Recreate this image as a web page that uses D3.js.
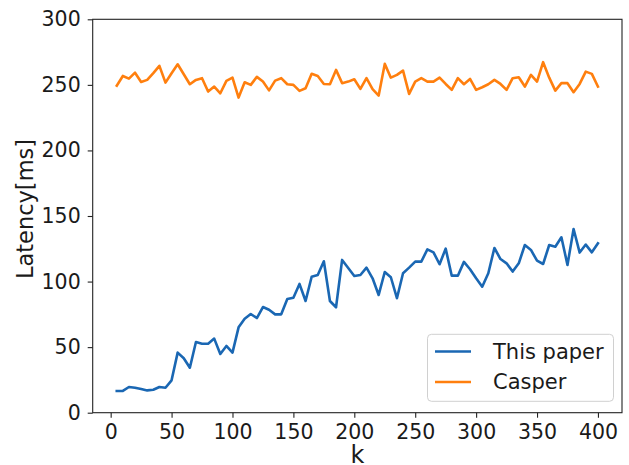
<!DOCTYPE html>
<html>
<head>
<meta charset="utf-8">
<script src="https://cdn.jsdelivr.net/npm/d3@7"></script>
<style>
  html, body { margin: 0; padding: 0; background: #fff; }
  svg { display: block; font-family: "DejaVu Sans", sans-serif; }
</style>
</head>
<body>
<svg id="chart" width="629" height="465"></svg>
<script>
// ---- data ----
const kValues = d3.range(5, 401, 5);
const thisPaper = [
  16.6, 16.6, 19.6, 19, 18, 17, 17.5, 19.6, 19, 24.7,
  45.8, 41.5, 34.3, 53.9, 52.6, 52.6, 56.5, 44.8, 50.9, 45.8,
  65.1, 71.7, 75.3, 72.2, 80.6, 78.5, 75, 75, 86.7, 87.7,
  98.2, 85.2, 103.7, 105, 115.5, 85.2, 80.4, 116.5, 110.4, 104.3,
  105, 110.6, 102.5, 89.8, 107.3, 103.3, 87.3, 106.3, 110.6, 115.2,
  115.2, 124.6, 122.3, 113.2, 125.1, 104.5, 104.5, 115, 109.4, 102.5,
  96.1, 106.3, 125.6, 117.2, 113.9, 107.6, 113.9, 127.9, 124.1, 115.9,
  113.4, 127.9, 126.6, 133.8, 112.7, 140.1, 122.1, 128.2, 122.3, 129.2
];
const casper = [
  249.4, 256.8, 254.8, 259.3, 252.2, 253.8, 258.9, 264.5, 251.7, 258.9,
  265.7, 258.1, 250.5, 253.8, 255.1, 244.9, 248.7, 243.6, 253, 255.5,
  240.3, 252, 250, 256.1, 252.5, 245.8, 253.2, 255.1, 250.5, 250,
  245.4, 247.4, 258.4, 256.8, 250.7, 250.5, 261.4, 251.3, 252.5, 254.3,
  246.9, 255.1, 246.7, 241.8, 266, 255.5, 257.6, 260.9, 243.1, 252.5,
  255.1, 252.5, 252.5, 255.5, 250.7, 246.2, 255.1, 250.5, 254.5, 246.2,
  248.2, 250.5, 253.8, 250.7, 246.2, 255.1, 255.8, 248.7, 257.6, 252.5,
  267.3, 255.5, 245.6, 251.3, 251.3, 244.4, 250.7, 260.1, 258.4, 248.7
];
const seriesNames = ["This paper", "Casper"];
const seriesColors = ["#1a67b3", "#ff7f0e"];
const xTicks = [0, 50, 100, 150, 200, 250, 300, 350, 400];
const yTicks = [0, 50, 100, 150, 200, 250, 300];

// ---- layout ----
const svg = d3.select("#chart");
const pLeft = 92.7, pRight = 622, pTop = 19.3, pBottom = 412.7;

const x = d3.scaleLinear().domain([-14.75, 419.75]).range([pLeft, pRight]);
const y = d3.scaleLinear().domain([0, 300]).range([pBottom, pTop]);

const line = d3.line().x((d, i) => x(kValues[i])).y(d => y(d));

const seriesData = [thisPaper, casper];
seriesData.forEach((s, j) => {
  svg.append("path")
    .datum(s)
    .attr("d", line)
    .attr("fill", "none")
    .attr("stroke", seriesColors[j])
    .attr("stroke-width", 2.6)
    .attr("stroke-linejoin", "round")
    .attr("stroke-linecap", "square");
});

// frame
svg.append("rect")
  .attr("x", pLeft).attr("y", pTop)
  .attr("width", pRight - pLeft).attr("height", pBottom - pTop)
  .attr("fill", "none").attr("stroke", "#222").attr("stroke-width", 1.1);

// axes
const xAxis = svg.append("g")
  .attr("transform", `translate(0,${pBottom})`)
  .call(d3.axisBottom(x).tickValues(xTicks).tickSize(5).tickPadding(7).tickSizeOuter(0));
const yAxis = svg.append("g")
  .attr("transform", `translate(${pLeft},0)`)
  .call(d3.axisLeft(y).tickValues(yTicks).tickSize(5).tickPadding(7).tickSizeOuter(0));
[xAxis, yAxis].forEach(g => {
  g.select(".domain").remove();
  g.selectAll("line").attr("stroke", "#222").attr("stroke-width", 1.1);
  g.selectAll("text")
    .attr("fill", "#1a1a1a")
    .style("font-family", "DejaVu Sans, sans-serif")
    .style("font-size", "20.5px");
});

// axis labels
svg.append("text")
  .attr("x", (pLeft + pRight) / 2).attr("y", 463)
  .attr("text-anchor", "middle")
  .attr("fill", "#1a1a1a")
  .style("font-size", "24px")
  .text("k");
svg.append("text")
  .attr("transform", `translate(33,209) rotate(-90)`)
  .attr("text-anchor", "middle")
  .attr("fill", "#1a1a1a")
  .style("font-size", "22.5px")
  .text("Latency[ms]");

// legend
const lg = svg.append("g");
lg.append("rect")
  .attr("x", 427.5).attr("y", 334.3)
  .attr("width", 186).attr("height", 67)
  .attr("rx", 4).attr("ry", 4)
  .attr("fill", "#fff").attr("fill-opacity", 0.8)
  .attr("stroke", "#d0d0d0").attr("stroke-width", 1);
seriesNames.forEach((name, i) => {
  const yy = 351.5 + i * 30.5;
  lg.append("line")
    .attr("x1", 435).attr("x2", 471)
    .attr("y1", yy).attr("y2", yy)
    .attr("stroke", seriesColors[i]).attr("stroke-width", 2.6);
  lg.append("text")
    .attr("x", 493).attr("y", yy)
    .attr("dy", "0.35em")
    .attr("fill", "#1a1a1a")
    .style("font-size", "21px")
    .text(name);
});
</script>
</body>
</html>
